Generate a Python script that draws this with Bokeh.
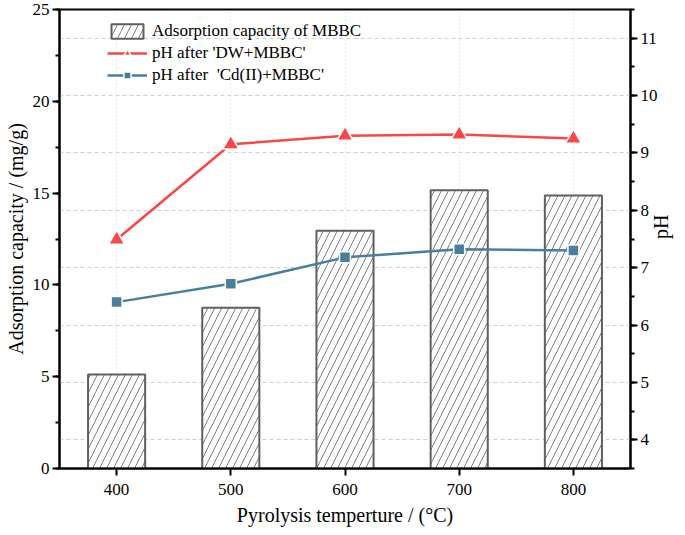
import math
from bokeh.plotting import figure
from bokeh.models import (Range1d, LinearAxis, SingleIntervalTicker, FixedTicker,
                          Grid, Legend, LegendItem)
from bokeh.embed import file_html
from bokeh.resources import INLINE

# ---- data ----
temps = [400, 500, 600, 700, 800]
capacity = [5.12, 8.75, 12.95, 15.15, 14.87]
ph_dw = [7.49, 9.15, 9.30, 9.32, 9.25]
ph_cd = [6.40, 6.72, 7.18, 7.32, 7.30]
x_ticks = [400, 500, 600, 700, 800]

FONT = "Liberation Serif"
RED = "#FA4646"
BLUE = "#4A7F9B"

p = figure(width=685, height=535, x_range=Range1d(350, 850), y_range=Range1d(0, 25),
           output_backend="svg", toolbar_location=None,
           min_border_left=59, min_border_right=54, min_border_top=9, min_border_bottom=67)
p.extra_y_ranges = {"ph": Range1d(3.5, 11.5)}

p.outline_line_color = "black"
p.outline_line_width = 2
p.background_fill_color = "white"

# grids
p.ygrid.visible = False
p.xgrid.ticker = FixedTicker(ticks=x_ticks)
p.xgrid.grid_line_color = "#d8d8d8"
p.xgrid.grid_line_dash = "1 3"
p.xgrid.grid_line_width = 1
ph_grid = Grid(dimension=1, ticker=SingleIntervalTicker(interval=1), y_range_name="ph",
               grid_line_color="#d0d0d0", grid_line_dash="4 3", grid_line_width=1)
p.add_layout(ph_grid)

# axes
def style_axis(ax):
    ax.axis_line_width = 2
    ax.axis_line_color = "black"
    ax.major_tick_line_width = 2
    ax.minor_tick_line_width = 2
    ax.major_tick_in = 0
    ax.minor_tick_in = 0
    ax.major_tick_out = 7
    ax.minor_tick_out = 4
    ax.major_label_text_font = FONT
    ax.major_label_text_font_size = "17px"
    ax.major_label_text_color = "black"
    ax.axis_label_text_font = FONT
    ax.axis_label_text_font_size = "20px"
    ax.axis_label_text_font_style = "normal"
    ax.axis_label_text_color = "black"

xa = p.xaxis[0]
style_axis(xa)
xa.ticker = FixedTicker(ticks=x_ticks)
xa.major_label_standoff = 8
xa.axis_label = "Pyrolysis temperture / (°C)"
xa.axis_label_standoff = 6

ya = p.yaxis[0]
style_axis(ya)
ya.ticker = SingleIntervalTicker(interval=5, num_minor_ticks=2)
ya.axis_label = "Adsorption capacity / (mg/g)"
ya.axis_label_standoff = 3
ya.major_label_standoff = 3

ra = LinearAxis(y_range_name="ph", ticker=SingleIntervalTicker(interval=1, num_minor_ticks=2),
                axis_label="pH")
style_axis(ra)
ra.major_tick_out = 7
ra.major_label_standoff = 3
ra.axis_label_standoff = 0
ra.axis_label_orientation = math.pi / 2
p.add_layout(ra, "right")

# bars
bars = p.vbar(x=temps, top=capacity, width=50, bottom=0,
              fill_color="white", line_color="#5f5f5f", line_width=2,
              hatch_pattern="/", hatch_color="#808080", hatch_scale=14, hatch_weight=1)

# lines
l1 = p.line(temps, ph_dw, y_range_name="ph", line_color=RED, line_width=2.5)
s1 = p.scatter(temps, ph_dw, y_range_name="ph", marker="triangle", size=16,
               fill_color=RED, line_color="white", line_width=1.5)
l2 = p.line(temps, ph_cd, y_range_name="ph", line_color=BLUE, line_width=2.5)
s2 = p.scatter(temps, ph_cd, y_range_name="ph", marker="square", size=11,
               fill_color=BLUE, line_color="white", line_width=1.5)

legend = Legend(items=[
    LegendItem(label="Adsorption capacity of MBBC", renderers=[bars]),
    LegendItem(label="pH after 'DW+MBBC'", renderers=[l1, s1]),
    LegendItem(label="pH after  'Cd(II)+MBBC'", renderers=[l2, s2]),
], location=(48, 382), border_line_color=None, background_fill_alpha=0,
    label_text_font=FONT, label_text_font_size="17px", label_text_color="black",
    glyph_width=40, glyph_height=18, label_height=22, padding=0, spacing=0,
    margin=0, label_standoff=5)
p.add_layout(legend)

open("out.html", "w").write(file_html(p, INLINE))
